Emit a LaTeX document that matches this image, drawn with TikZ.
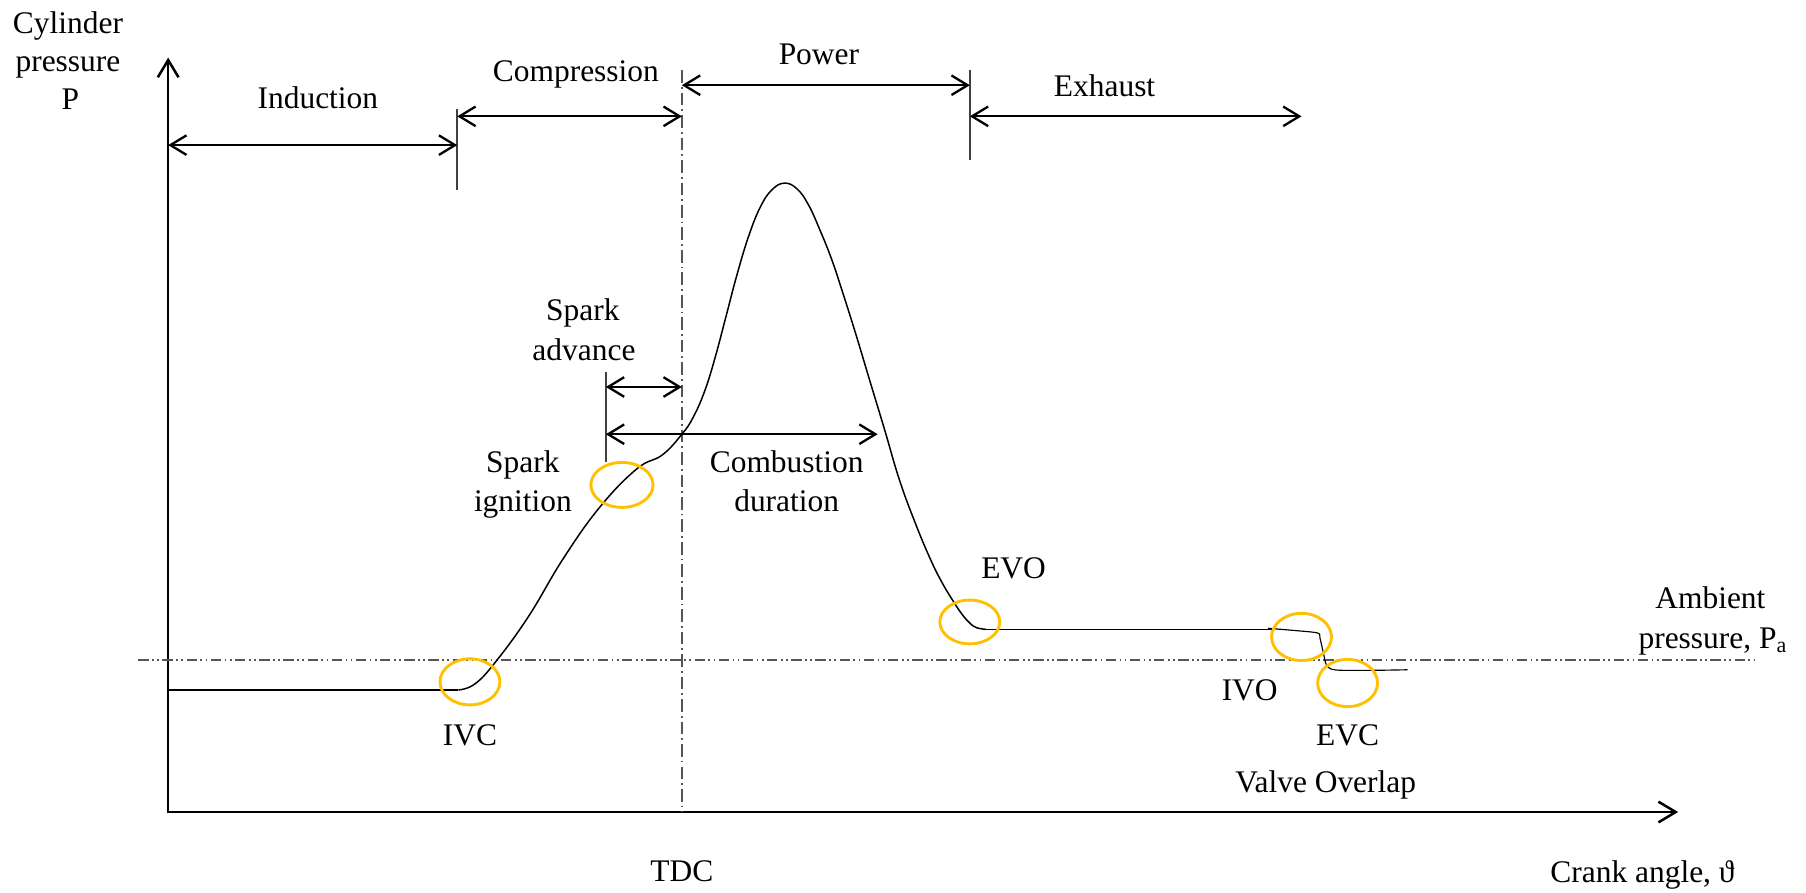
\documentclass[tikz,border=0pt]{standalone}
\usepackage{fontspec}
\setmainfont{Liberation Serif}
\usetikzlibrary{arrows.meta}
\definecolor{ringc}{HTML}{FFC000}
\definecolor{dashc}{HTML}{555555}
\definecolor{tickc}{HTML}{404040}
\tikzset{
  lbl/.style={font=\fontsize{27.3}{32}\selectfont, inner sep=0pt, anchor=base},
  dblarrow/.style={line width=2pt, {Straight Barb[length=14pt,width=17pt]}-{Straight Barb[length=14pt,width=17pt]}},
  axisline/.style={line width=2.2pt, {Straight Barb[length=15pt,width=18pt]}-{Straight Barb[length=15pt,width=18pt]}},
  tickline/.style={draw=tickc, line width=1.4pt},
  ambline/.style={draw=dashc, line width=1.5pt, dash pattern=on 9pt off 3pt on 1.5pt off 3pt on 1.5pt off 3pt},
  tdcline/.style={draw=dashc, line width=1.5pt, dash pattern=on 11pt off 3.5pt on 1.5pt off 3.5pt},
  curveline/.style={line width=1.3pt, black},
  ring/.style={draw=ringc, line width=2.5pt}
}
\begin{document}
\begin{tikzpicture}[x=1pt,y=-1pt]
\useasboundingbox (0,0) rectangle (1568,775);

% axes
\coordinate (ytop) at (146,50);
\coordinate (orig) at (146,705);
\coordinate (xend) at (1457,705);
\draw[axisline] (ytop) -- (orig) -- (xend);

% reference lines
\coordinate (ambL) at (120,573);
\coordinate (ambR) at (1524,573);
\draw[ambline] (ambL) -- (ambR);
\coordinate (tdcT) at (592,61);
\coordinate (tdcB) at (592,705);
\draw[tdcline] (tdcT) -- (tdcB);

% ticks
\coordinate (t1a) at (397,95);  \coordinate (t1b) at (397,165);
\coordinate (t2a) at (842,61);  \coordinate (t2b) at (842,139);
\coordinate (t3a) at (526,323); \coordinate (t3b) at (526,401);
\draw[tickline] (t1a) -- (t1b);
\draw[tickline] (t2a) -- (t2b);
\draw[tickline] (t3a) -- (t3b);

% stroke arrows
\coordinate (indL) at (146,126); \coordinate (indR) at (397,126);
\coordinate (comL) at (397,101); \coordinate (comR) at (592,101);
\coordinate (powL) at (592,74);  \coordinate (powR) at (842,74);
\coordinate (exhL) at (842,101); \coordinate (exhR) at (1130,101);
\coordinate (spaL) at (526,336); \coordinate (spaR) at (592,336);
\coordinate (cdL) at (526,377);  \coordinate (cdR) at (762,377);
\draw[dblarrow] (indL) -- (indR);
\draw[dblarrow] (comL) -- (comR);
\draw[dblarrow] (powL) -- (powR);
\draw[dblarrow] (exhL) -- (exhR);
\draw[dblarrow] (spaL) -- (spaR);
\draw[dblarrow] (cdL) -- (cdR);

% pressure curve
\draw[curveline] (146,599) -- (398,599);
\draw[curveline] plot[smooth, tension=0.7] coordinates {(398,599) (412,594) (430,575) (459,535) (489,485) (521,440) (553,407) (575,395) (592,377) (602,362) (612,339) (621,310) (630,276) (640,238) (650,205) (660,180) (670,165) (681,159) (692,164) (702,178) (712,200) (722,225) (731,252) (743,290) (755,330) (768,373) (781,417) (795,455) (808,486) (818,506) (827,521) (835,533) (842,541) (848,545) (856,546.4)};
\draw[curveline] (856,546.4) -- (1104,546.4);
\draw[line width=1pt] plot[smooth, tension=0.5] coordinates {(1101,545.5) (1125,547.5) (1144,549.6) (1146,554) (1149,567) (1152,578) (1160,581.7) (1190,582) (1222,581.5)};

% event rings
\draw[ring] (408,592) ellipse [x radius=26, y radius=20] node (ivcring) {};
\draw[ring] (540,421) ellipse [x radius=27, y radius=19.5] node (siring) {};
\draw[ring] (842,540) ellipse [x radius=26, y radius=19] node (evoring) {};
\draw[ring] (1130,553) ellipse [x radius=26, y radius=20.5] node (ivoring) {};
\draw[ring] (1170,593) ellipse [x radius=26, y radius=20.5] node (evcring) {};

% labels
\node[lbl] (cyl1) at (59,29) {Cylinder};
\node[lbl] (cyl2) at (59,62) {pressure};
\node[lbl] (cyl3) at (61,95.5) {P};
\node[lbl] (induction) at (276,94) {Induction};
\node[lbl] (compression) at (500,71) {Compression};
\node[lbl] (power) at (711,55.6) {Power};
\node[lbl] (exhaust) at (959,84) {Exhaust};
\node[lbl] (sa1) at (506,278) {Spark};
\node[lbl] (sa2) at (507,312.6) {advance};
\node[lbl] (si1) at (454,410) {Spark};
\node[lbl] (si2) at (454,444) {ignition};
\node[lbl] (cd1) at (683,410) {Combustion};
\node[lbl] (cd2) at (683,444) {duration};
\node[lbl] (evo) at (880,502) {EVO};
\node[lbl] (ivo) at (1085,608) {IVO};
\node[lbl] (ivc) at (408,647) {IVC};
\node[lbl] (evc) at (1170,647) {EVC};
\node[lbl] (overlap) at (1151,688) {Valve Overlap};
\node[lbl] (tdc) at (592,765.5) {TDC};
\node[lbl] (crank) at (1426,766) {Crank angle, ϑ};
\node[lbl] (amb1) at (1485,528) {Ambient};
\node[lbl] (amb2) at (1487,563) {pressure, P\textsubscript{a}};
\end{tikzpicture}
\end{document}
